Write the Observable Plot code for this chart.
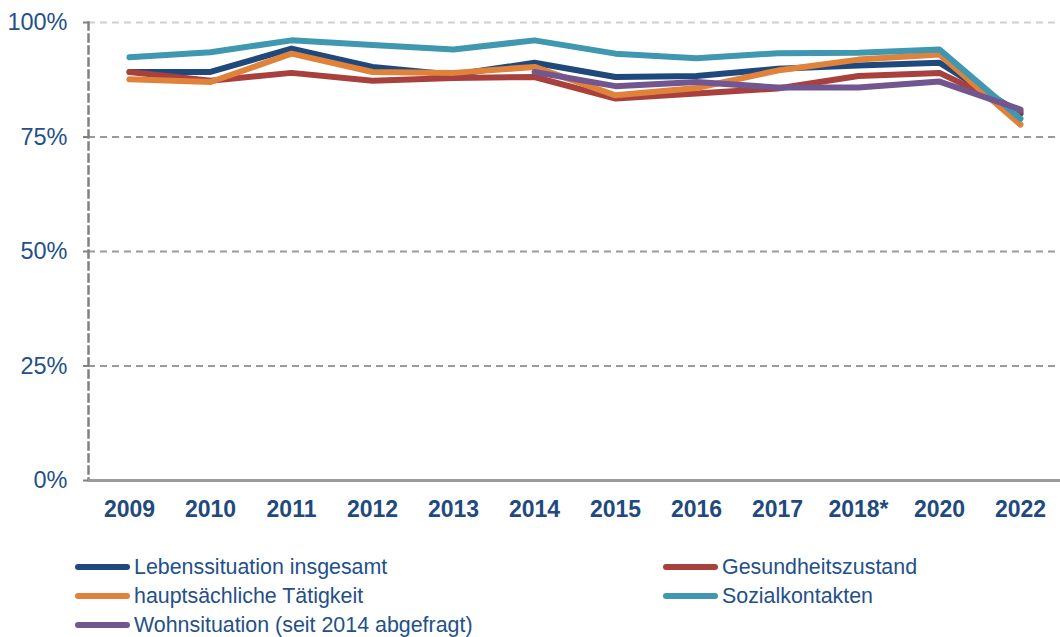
<!DOCTYPE html>
<html>
<head>
<meta charset="utf-8">
<script src="https://cdn.jsdelivr.net/npm/d3@7"></script>
<script src="https://cdn.jsdelivr.net/npm/@observablehq/plot@0.6"></script>
<style>
  html, body { margin: 0; padding: 0; background: #fff; }
  body { width: 1060px; height: 637px; overflow: hidden; font-family: "Liberation Sans", Arial, sans-serif; }
  #legend { position: relative; height: 97px; }
  .item { position: absolute; display: flex; align-items: center; font-size: 21.4px; color: #24508a; white-space: nowrap; }
  .sw { width: 55px; height: 6px; border-radius: 3px; margin-right: 4px; }
</style>
</head>
<body>
<div id="chart"></div>
<div id="legend"></div>
<script>
const years = ["2009","2010","2011","2012","2013","2014","2015","2016","2017","2018*","2020","2022"];
const seriesNames = ["Lebenssituation insgesamt","Gesundheitszustand","hauptsächliche Tätigkeit","Sozialkontakten","Wohnsituation (seit 2014 abgefragt)"];
const colors = ["#1f497d","#a8403e","#e0823a","#3f97b0","#71568f"];
const lebenssituation = [89.2, 89.2, 94.3, 90.3, 88.6, 91.2, 88.1, 88.3, 89.9, 90.6, 91.2, 80.1];
const gesundheit      = [89.2, 87.3, 89.0, 87.3, 87.9, 88.1, 83.4, 84.5, 85.6, 88.3, 89.0, 80.6];
const taetigkeit      = [87.6, 87.0, 93.2, 89.2, 89.0, 90.3, 84.1, 85.7, 89.5, 91.9, 93.0, 77.7];
const sozial          = [92.4, 93.5, 96.1, 95.1, 94.1, 96.1, 93.2, 92.2, 93.3, 93.4, 94.1, 79.0];
const wohn            = [null, null, null, null, null, 89.2, 86.1, 87.0, 85.8, 85.8, 87.1, 81.0];
const allSeries = [lebenssituation, gesundheit, taetigkeit, sozial, wohn];
const yTicks = [0, 25, 50, 75, 100];

const data = [];
allSeries.forEach((vals, si) => {
  vals.forEach((v, i) => { if (v != null) data.push({series: seriesNames[si], year: years[i], value: v}); });
});

const textColor = "#24508a";
const chart = Plot.plot({
  width: 1060,
  height: 540,
  marginLeft: 88,
  marginRight: 0,
  marginTop: 22,
  marginBottom: 60,
  style: {fontFamily: "'Liberation Sans', Arial, sans-serif", background: "#fff"},
  x: {type: "point", domain: years, padding: 0.5},
  y: {domain: [0, 100]},
  color: {domain: seriesNames, range: colors},
  marks: [
    Plot.ruleY([25, 50, 75], {stroke: "#9a9a9a", strokeWidth: 2, strokeDasharray: "7,5"}),
    Plot.ruleY([100], {stroke: "#cfcfcf", strokeWidth: 2, strokeDasharray: "7,5"}),
    Plot.frame({anchor: "left", stroke: "#808080", strokeWidth: 2.5, strokeDasharray: "7,5"}),
    Plot.ruleY([0], {stroke: "#9a9a9a", strokeWidth: 3}),
    Plot.axisY(yTicks, {tickSize: 5, tickPadding: 16, fontSize: 23.5, fill: textColor, stroke: "#808080", strokeWidth: 2, tickFormat: d => d + "%", label: null}),
    Plot.axisX({tickSize: 0, tickPadding: 20, fontSize: 23, fontWeight: "bold", fill: "#1f4a80", label: null}),
    Plot.line(data, {x: "year", y: "value", z: "series", stroke: "series", strokeWidth: 6, strokeLinejoin: "round", strokeLinecap: "round"})
  ]
});
document.getElementById("chart").appendChild(chart);

const legend = document.getElementById("legend");
const pos = [[75, 27], [663, 27], [75, 56], [663, 56], [75, 85]];
const order = [0, 1, 2, 3, 4];
order.forEach((si, k) => {
  const it = document.createElement("div");
  it.className = "item";
  it.style.left = pos[k][0] + "px";
  it.style.top = (pos[k][1] - 14) + "px";
  it.style.height = "28px";
  it.innerHTML = `<span class="sw" style="background:${colors[si]}"></span><span>${seriesNames[si]}</span>`;
  legend.appendChild(it);
});
</script>
</body>
</html>
